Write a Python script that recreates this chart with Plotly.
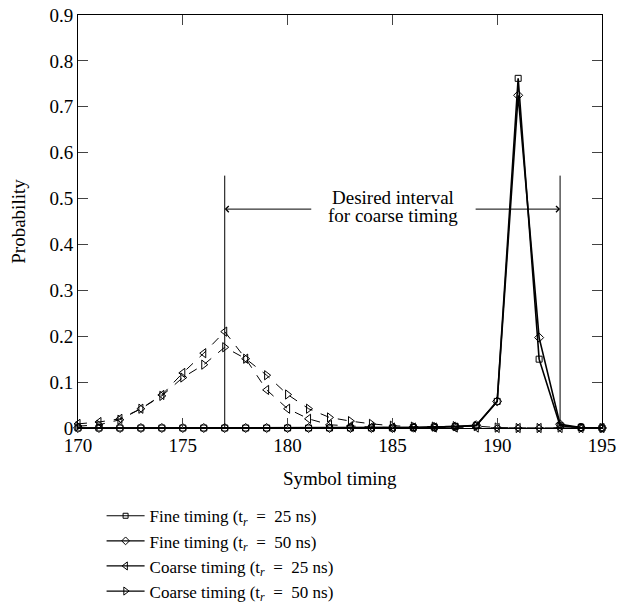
import plotly.graph_objects as go

symbol_timing = list(range(170, 196))

fine_25 = [0, 0, 0, 0, 0, 0, 0, 0, 0, 0, 0, 0, 0, 0, 0, 0, 0.001, 0.002, 0.003, 0.005,
           0.058, 0.762, 0.150, 0.005, 0.001, 0]
fine_50 = [0, 0, 0, 0, 0, 0, 0, 0, 0, 0, 0, 0, 0, 0, 0, 0, 0.001, 0.002, 0.003, 0.006,
           0.058, 0.725, 0.197, 0.008, 0.001, 0]
coarse_25 = [0.009, 0.013, 0.020, 0.042, 0.072, 0.120, 0.163, 0.210, 0.151, 0.083, 0.042,
             0.020, 0.007, 0.004, 0.002, 0.001, 0.001, 0.001, 0.001, 0.001,
             0, 0, 0, 0, 0, 0]
coarse_50 = [0.004, 0.007, 0.018, 0.042, 0.070, 0.110, 0.138, 0.176, 0.151, 0.115, 0.073,
             0.042, 0.023, 0.015, 0.009, 0.005, 0.003, 0.003, 0.004, 0.004,
             0.001, 0, 0, 0.001, 0, 0]

series_names = [
    "Fine timing (t<sub><i>r</i></sub>  =  25 ns)",
    "Fine timing (t<sub><i>r</i></sub>  =  50 ns)",
    "Coarse timing (t<sub><i>r</i></sub>  =  25 ns)",
    "Coarse timing (t<sub><i>r</i></sub>  =  50 ns)",
]
x_title = "Symbol timing"
y_title = "Probability"

interval_start = 177
interval_end = 193
interval_line_top = 0.55
arrow_level = 0.477
label_line1 = "Desired interval"
label_line2 = "for coarse timing"

FONT = "Liberation Serif"

fig = go.Figure()
specs = [
    (fine_25, series_names[0], "square-open", "solid", 1.6, 6),
    (fine_50, series_names[1], "diamond-open", "solid", 1.6, 7),
    (coarse_25, series_names[2], "triangle-left-open", "dash", 1.0, 8),
    (coarse_50, series_names[3], "triangle-right-open", "dash", 1.0, 8),
]
for ys, name, sym, dash, lw, ms in specs:
    fig.add_trace(go.Scatter(
        x=symbol_timing, y=ys, name=name, mode="lines+markers", showlegend=False,
        line=dict(color="black", width=lw, dash=dash),
        marker=dict(symbol=sym, size=ms, color="black", line=dict(width=1, color="black")),
        cliponaxis=False,
    ))
# legend entries drawn with solid lines like the reference key
for ys, name, sym, dash, lw, ms in specs:
    fig.add_trace(go.Scatter(
        x=[None], y=[None], name=name, mode="lines+markers",
        line=dict(color="black", width=1.2),
        marker=dict(symbol=sym, size=ms - 1, color="black", line=dict(width=1, color="black")),
    ))

for xv in (interval_start, interval_end):
    fig.add_shape(type="line", x0=xv, x1=xv, y0=0, y1=interval_line_top,
                  xref="x", yref="y", line=dict(color="black", width=1))

fig.add_annotation(x=interval_start, y=arrow_level, ax=181.2, ay=arrow_level,
                   xref="x", yref="y", axref="x", ayref="y", text="",
                   showarrow=True, arrowhead=4, arrowsize=1.2, arrowwidth=1, arrowcolor="black")
fig.add_annotation(x=interval_end, y=arrow_level, ax=188.9, ay=arrow_level,
                   xref="x", yref="y", axref="x", ayref="y", text="",
                   showarrow=True, arrowhead=4, arrowsize=1.2, arrowwidth=1, arrowcolor="black")
fig.add_annotation(x=185.05, y=0.502, xref="x", yref="y", text=label_line1,
                   showarrow=False, font=dict(family=FONT, size=19, color="black"))
fig.add_annotation(x=185.05, y=0.462, xref="x", yref="y", text=label_line2,
                   showarrow=False, font=dict(family=FONT, size=19, color="black"))
# x-axis title
fig.add_annotation(x=0.5, y=0, xref="paper", yref="paper", yanchor="middle",
                   yshift=-50, text=x_title, showarrow=False,
                   font=dict(family=FONT, size=19, color="black"))

fig.update_layout(
    width=629, height=605,
    margin=dict(l=70, r=35, t=7, b=185, autoexpand=False),
    paper_bgcolor="white", plot_bgcolor="white",
    font=dict(family=FONT, size=18, color="black"),
    showlegend=True,
    legend=dict(x=0.045, y=-0.17, xanchor="left", yanchor="top",
                font=dict(family=FONT, size=17, color="black"),
                tracegroupgap=0, itemwidth=38, bgcolor="rgba(0,0,0,0)"),
)
fig.update_xaxes(range=[170, 195], tick0=170, dtick=5, ticks="inside", ticklen=10,
                 showline=True, linecolor="black", linewidth=1, mirror="ticks",
                 showgrid=False, zeroline=False,
                 tickfont=dict(family=FONT, size=19))
fig.update_yaxes(range=[0, 0.9], tick0=0, dtick=0.1, ticks="inside", ticklen=10,
                 showline=True, linecolor="black", linewidth=1, mirror="ticks",
                 showgrid=False, zeroline=False, ticklabeloverflow="allow",
                 title=dict(text=y_title, font=dict(family=FONT, size=19), standoff=18),
                 tickfont=dict(family=FONT, size=19))

fig.write_html("out.html")
